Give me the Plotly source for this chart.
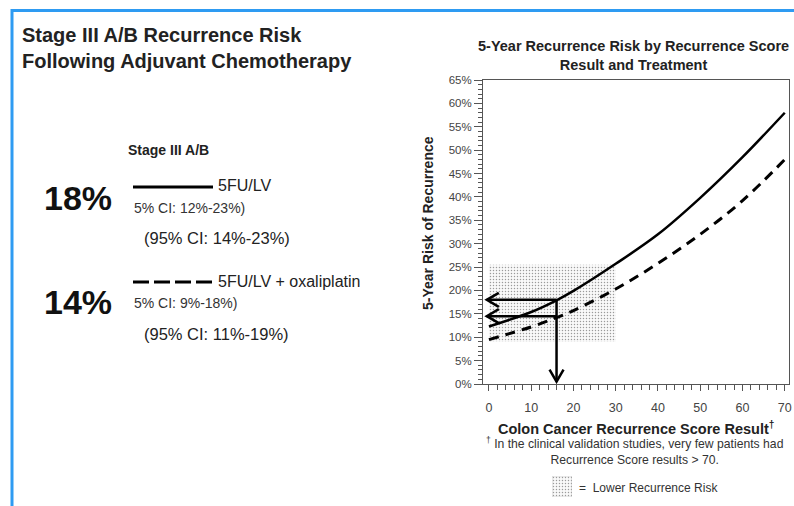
import plotly.graph_objects as go

# ---------------- data ----------------
score = [0, 10, 16, 20, 30, 40, 50, 60, 70]
risk_5fu = [12.3, 15.4, 17.9, 19.9, 25.7, 32.0, 39.8, 48.5, 58.0]
risk_oxa = [9.5, 12.2, 14.2, 15.7, 20.3, 25.8, 32.0, 39.2, 48.0]

lower_risk_x = [0, 30]       # shaded "lower recurrence risk" region
lower_risk_y = [9, 25.5]

example_score = 16
example_risk_5fu = 18.0
example_risk_oxa = 14.5

y_ticks = list(range(0, 70, 5))
y_tick_labels = [f"{v}%" for v in y_ticks]
x_ticks = list(range(0, 80, 10))

W, H = 794, 506
X0, X1 = -1.4, 71.0
Y0, Y1 = 0, 65
PL, PR, PT, PB = 483, 789, 80, 384   # plot box in pixels


def px(x):
    return x / W


def py(y):
    return 1 - y / H


def dx_per_px():
    return (X1 - X0) / (PR - PL)


def dy_per_px():
    return (Y1 - Y0) / (PB - PT)


FONT = "Liberation Sans, Arial, sans-serif"
PATTERN = dict(shape=".", fgcolor="#9a9a9a", bgcolor="#f9f9f9", size=3, solidity=0.18)

fig = go.Figure()

# shaded region
fig.add_trace(go.Scatter(
    x=[lower_risk_x[0], lower_risk_x[1], lower_risk_x[1], lower_risk_x[0], lower_risk_x[0]],
    y=[lower_risk_y[0], lower_risk_y[0], lower_risk_y[1], lower_risk_y[1], lower_risk_y[0]],
    fill="toself", mode="none", fillcolor="rgba(0,0,0,0)", fillpattern=PATTERN,
    hoverinfo="skip", showlegend=False))

# curves
fig.add_trace(go.Scatter(x=score, y=risk_5fu, mode="lines",
                         line=dict(color="black", width=2.5, shape="spline", smoothing=1.0),
                         showlegend=False, name="5FU/LV"))
fig.add_trace(go.Scatter(x=score, y=risk_oxa, mode="lines",
                         line=dict(color="black", width=3, dash="10px,7px", shape="spline", smoothing=1.0),
                         showlegend=False, name="5FU/LV + oxaliplatin"))

# arrows
ax_len = 12 * dx_per_px()
ay_half = 7 * dy_per_px()
tip_x = -0.5
for r in [example_risk_5fu, example_risk_oxa]:
    fig.add_trace(go.Scatter(x=[example_score, tip_x], y=[r, r], mode="lines",
                             line=dict(color="black", width=2.5), showlegend=False, hoverinfo="skip"))
    fig.add_trace(go.Scatter(x=[tip_x + ax_len, tip_x, tip_x + ax_len], y=[r + ay_half, r, r - ay_half],
                             mode="lines", line=dict(color="black", width=2.5), showlegend=False, hoverinfo="skip"))
vx_half = 7 * dx_per_px()
vy_len = 12 * dy_per_px()
tip_y = 0.5
fig.add_trace(go.Scatter(x=[example_score, example_score], y=[example_risk_5fu, tip_y], mode="lines",
                         line=dict(color="black", width=2.5), showlegend=False, hoverinfo="skip"))
fig.add_trace(go.Scatter(x=[example_score - vx_half, example_score, example_score + vx_half],
                         y=[tip_y + vy_len, tip_y, tip_y + vy_len], mode="lines",
                         line=dict(color="black", width=2.5), showlegend=False, hoverinfo="skip"))

# small legend square on a second axes
fig.add_trace(go.Scatter(x=[0, 1, 1, 0, 0], y=[0, 0, 1, 1, 0], fill="toself", mode="lines",
                         line=dict(color="#bbbbbb", width=0.5), fillcolor="rgba(0,0,0,0)",
                         fillpattern=PATTERN,
                         xaxis="x2", yaxis="y2", showlegend=False, hoverinfo="skip"))

axis_col = "#555555"
fig.update_layout(
    template="none",
    width=W, height=H, autosize=False,
    margin=dict(l=0, r=0, t=0, b=0, pad=0, autoexpand=False),
    paper_bgcolor="white", plot_bgcolor="white",
    font=dict(family=FONT, color="#222"),
    xaxis=dict(domain=[px(PL), px(PR)], range=[X0, X1], tickvals=x_ticks, showgrid=False, zeroline=False,
               automargin=False, ticklabelstandoff=6,
               showline=True, linecolor=axis_col, linewidth=1, mirror=True,
               ticks="outside", ticklen=6, tickcolor=axis_col,
               minor=dict(ticks="outside", dtick=2, tick0=0, ticklen=5, tickcolor=axis_col),
               tickfont=dict(size=12.5, color="#444", family=FONT)),
    yaxis=dict(domain=[py(PB), py(PT)], range=[Y0, Y1], tickvals=y_ticks, ticktext=y_tick_labels,
               showgrid=False, zeroline=False, automargin=False,
               showline=True, linecolor=axis_col, linewidth=1, mirror=True,
               ticks="outside", ticklen=8, tickcolor=axis_col,
               minor=dict(ticks="outside", dtick=1, tick0=0, ticklen=4, tickcolor=axis_col),
               tickfont=dict(size=11.5, color="#444", family=FONT)),
    xaxis2=dict(domain=[px(552), px(572)], range=[0, 1], visible=False, anchor="y2", automargin=False),
    yaxis2=dict(domain=[py(497), py(476)], range=[0, 1], visible=False, anchor="x2", automargin=False),
)

shapes = []
# blue frame
shapes.append(dict(type="line", xref="paper", yref="paper", x0=px(12), x1=px(W), y0=py(10.5), y1=py(10.5),
                   line=dict(color="#2e9bf2", width=3)))
shapes.append(dict(type="line", xref="paper", yref="paper", x0=px(12), x1=px(12), y0=py(9), y1=py(H),
                   line=dict(color="#2e9bf2", width=3)))
# left legend lines
shapes.append(dict(type="line", xref="paper", yref="paper", x0=px(133), x1=px(213), y0=py(187), y1=py(187),
                   line=dict(color="black", width=3)))
shapes.append(dict(type="line", xref="paper", yref="paper", x0=px(133), x1=px(213), y0=py(282), y1=py(282),
                   line=dict(color="black", width=3, dash="16px,5px")))
fig.update_layout(shapes=shapes)


def text(x, y, s, size, bold=False, color="#222", xanchor="left", align="left", angle=0, family=FONT):
    if bold:
        s = "<b>" + s.replace("<br>", "</b><br><b>") + "</b>"
    fig.add_annotation(x=px(x), y=py(y), xref="paper", yref="paper", text=s, showarrow=False,
                       xanchor=xanchor, yanchor="middle", align=align, textangle=angle,
                       font=dict(size=size, color=color, family=family))


# left panel
text(20, 48, "Stage III A/B Recurrence Risk<br>Following Adjuvant Chemotherapy", 20, bold=True)
text(126, 150, "Stage III A/B", 14, bold=True)
text(42, 198, "18%", 34, bold=True, color="#111")
text(216, 185, "5FU/LV", 16)
text(132, 208, "5% CI: 12%-23%)", 14, color="#333")
text(142, 238, "(95% CI: 14%-23%)", 16.5)
text(42, 302, "14%", 34, bold=True, color="#111")
text(216, 281, "5FU/LV + oxaliplatin", 16)
text(132, 303, "5% CI: 9%-18%)", 14, color="#333")
text(142, 334, "(95% CI: 11%-19%)", 16.5)

# right panel
text(633, 55, "5-Year Recurrence Risk by Recurrence Score<br>Result and Treatment", 14.5, bold=True,
     xanchor="center", align="center")
text(428, 223, "5-Year Risk of Recurrence", 14, bold=True, xanchor="center", angle=-90)
text(636, 428, "Colon Cancer Recurrence Score Result<sup>†</sup>", 14.5, bold=True, xanchor="center")
text(634, 451, "<sup>†</sup> In the clinical validation studies, very few patients had<br>Recurrence Score results > 70.",
     12.2, color="#333", xanchor="center", align="center")
text(577, 488, "=  Lower Recurrence Risk", 12, color="#333")

fig.write_html("out.html", config={"displayModeBar": False},
               post_script="document.body.style.margin='0px';document.body.style.padding='0px';"
                           "document.body.style.overflow='hidden';")
